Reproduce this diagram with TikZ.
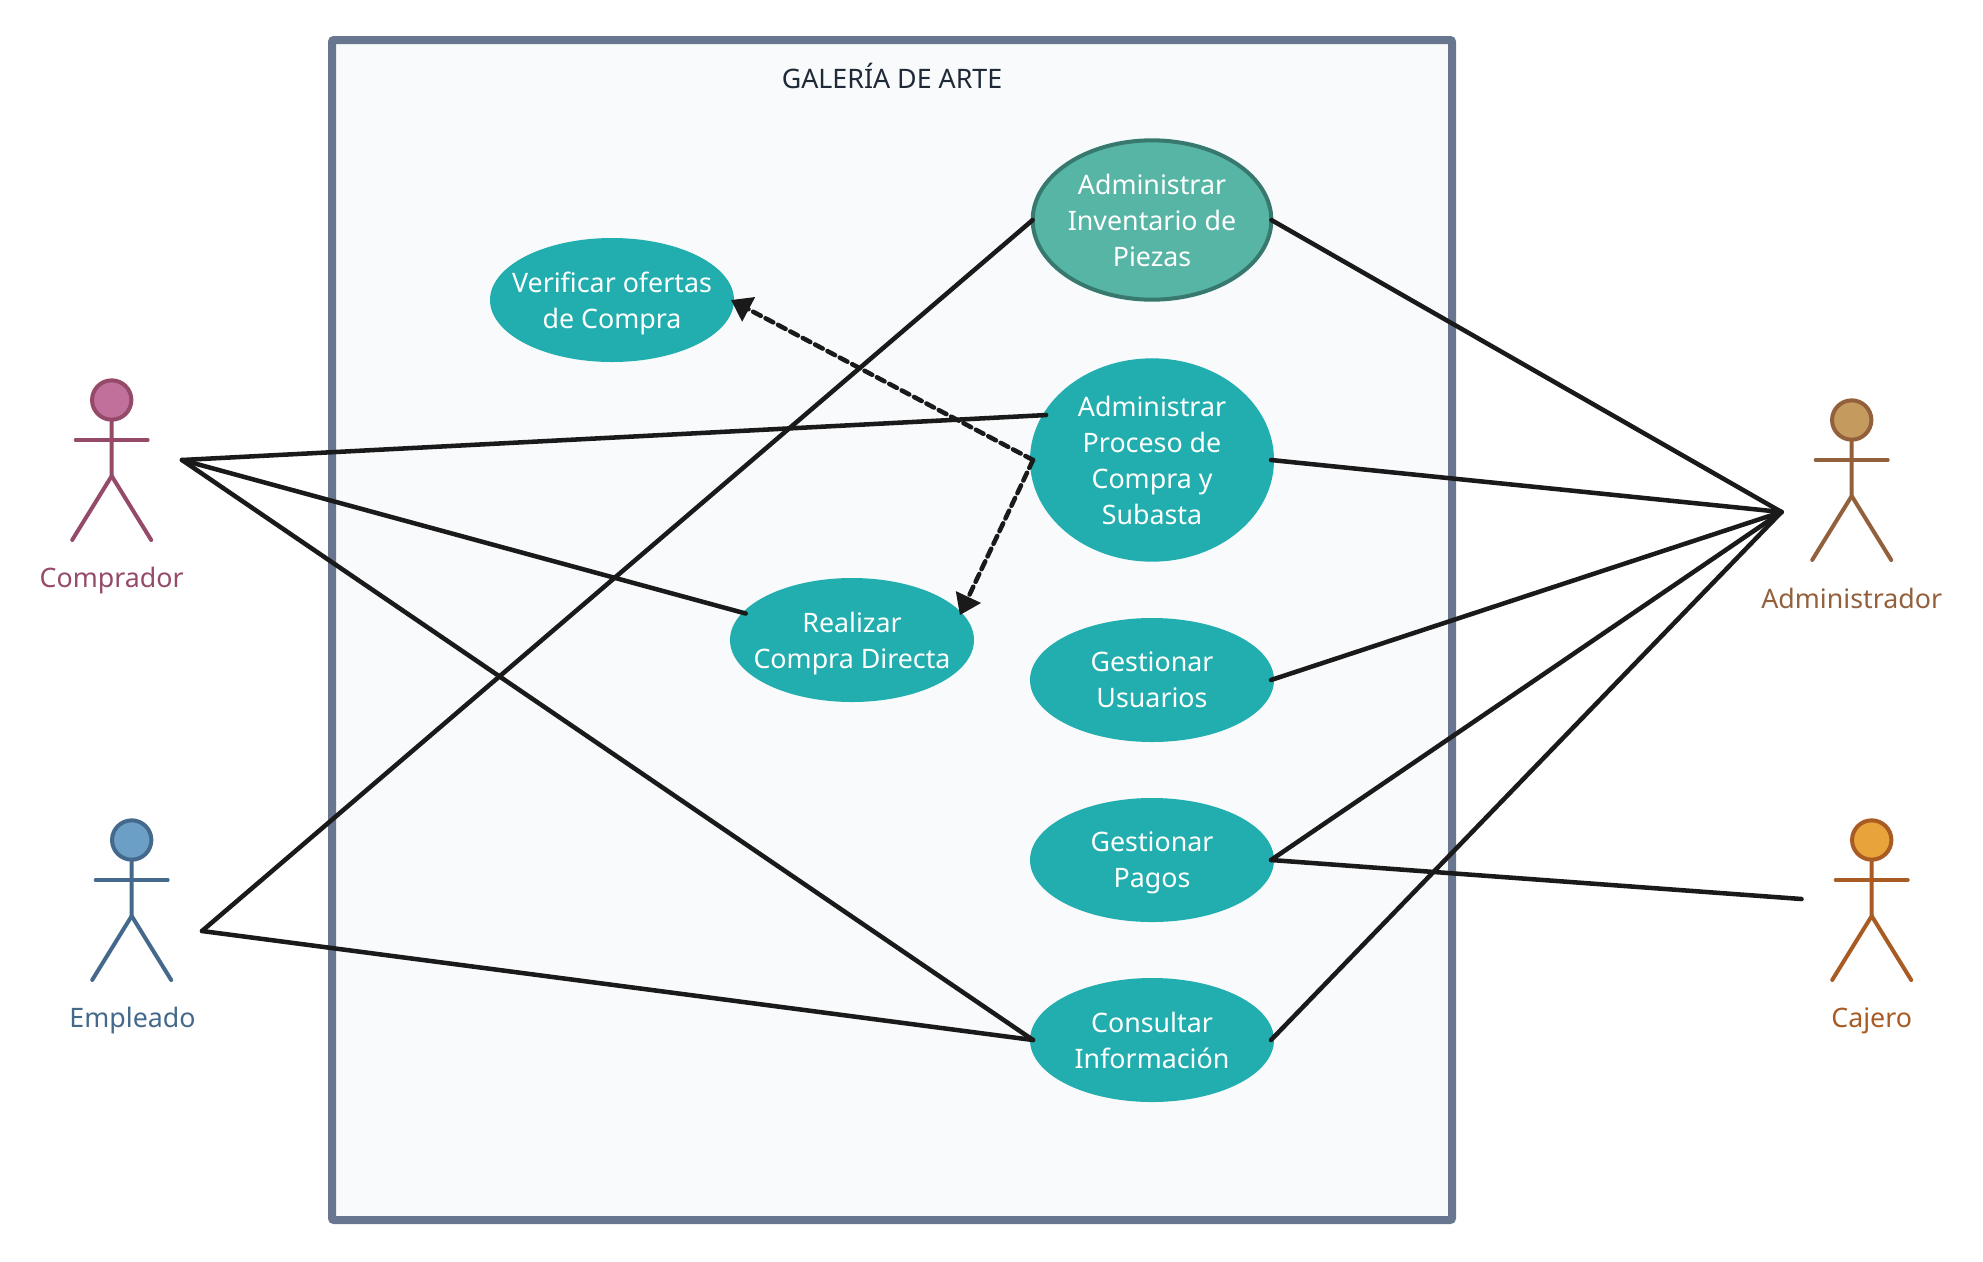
\documentclass[tikz,border=0pt]{standalone}
\usepackage{fontspec}
\setmainfont{Noto Sans}
\usepackage{tikz}
\usetikzlibrary{shapes.geometric,arrows.meta}
\definecolor{boxline}{HTML}{697690}
\definecolor{boxfill}{HTML}{F8FAFC}
\definecolor{titletext}{HTML}{1F2937}
\definecolor{teal1}{HTML}{22AEAE}
\definecolor{teal2}{HTML}{57B5A5}
\definecolor{teal2line}{HTML}{37786F}
\definecolor{wire}{HTML}{1A1A1A}
\definecolor{comprline}{HTML}{964A6A}
\definecolor{comprfill}{HTML}{C0709B}
\definecolor{empline}{HTML}{45698C}
\definecolor{empfill}{HTML}{6B9FC6}
\definecolor{adminline}{HTML}{93603C}
\definecolor{adminfill}{HTML}{C49A5F}
\definecolor{cajline}{HTML}{A85B22}
\definecolor{cajfill}{HTML}{E8A33A}
\tikzset{
  usecase/.style={ellipse,fill=teal1,text=white,inner xsep=-15pt,inner ysep=0pt,outer sep=-2.25pt,
    align=center,text depth=-1pt,minimum width=183pt,minimum height=93pt,
    font=\fontsize{20.1}{27}\selectfont},
  wireline/.style={draw=wire,line width=3.4pt,line cap=round},
  include/.style={wireline,dash pattern=on 6.5pt off 4pt,-{Triangle[length=15pt,width=20pt]}},
  head/.style={circle,line width=3pt,minimum size=29.5pt,inner sep=0pt},
  stick/.style={line width=3pt,line cap=round},
  actorlabel/.style={font=\fontsize{20.1}{27}\selectfont},
}
\begin{document}
\begin{tikzpicture}[x=0.75pt,y=-0.75pt]
\useasboundingbox (0,0) rectangle (1983,1261);
% System box
\draw[draw=boxline,fill=boxfill,line width=6pt,rounded corners=1.5pt] (332,40) rectangle (1452,1220);
\node[text=titletext,actorlabel] (title) at (892,75.5) {GALERÍA DE ARTE};
% Use cases
\node[usecase,draw=teal2line,fill=teal2,line width=3pt,outer sep=0pt,minimum width=179pt,minimum height=119.5pt] (inventario) at (1152,220) {Administrar\\Inventario de\\Piezas};
\node[usecase,minimum height=152.5pt] (proceso) at (1152,460) {Administrar\\Proceso de\\Compra y\\Subasta};
\node[usecase] (verificar) at (612,300) {Verificar ofertas\\de Compra};
\node[usecase] (directa) at (852,640) {Realizar\\Compra Directa};
\node[usecase] (usuarios) at (1152,680) {Gestionar\\Usuarios};
\node[usecase] (pagos) at (1152,860) {Gestionar\\Pagos};
\node[usecase] (consultar) at (1152,1040) {Consultar\\Información};
% Actor Comprador
\node[head,draw=comprline,fill=comprfill] (comprhead) at (111.7,400) {};
\draw[stick,comprline] (comprhead.south) -- ++(0,54.3) -- ++(-39.5,64);
\draw[stick,comprline] (111.7,476) -- ++(39.5,64);
\draw[stick,comprline] (75.7,440) -- (147.7,440);
\node[actorlabel,text=comprline] (comprlabel) at (111.7,581) {Comprador};
% Actor Empleado
\node[head,draw=empline,fill=empfill] (emphead) at (131.7,840) {};
\draw[stick,empline] (emphead.south) -- ++(0,54.3) -- ++(-39.5,64);
\draw[stick,empline] (131.7,916) -- ++(39.5,64);
\draw[stick,empline] (95.7,880) -- (167.7,880);
\node[actorlabel,text=empline] (emplabel) at (132.5,1021) {Empleado};
% Actor Administrador
\node[head,draw=adminline,fill=adminfill] (adminhead) at (1851.7,420) {};
\draw[stick,adminline] (adminhead.south) -- ++(0,54.3) -- ++(-39.5,64);
\draw[stick,adminline] (1851.7,496) -- ++(39.5,64);
\draw[stick,adminline] (1815.7,460) -- (1887.7,460);
\node[actorlabel,text=adminline] (adminlabel) at (1851.7,598.5) {Administrador};
% Actor Cajero
\node[head,draw=cajline,fill=cajfill] (cajhead) at (1871.7,840) {};
\draw[stick,cajline] (cajhead.south) -- ++(0,54.3) -- ++(-39.5,64);
\draw[stick,cajline] (1871.7,916) -- ++(39.5,64);
\draw[stick,cajline] (1835.7,880) -- (1907.7,880);
\node[actorlabel,text=cajline] (cajlabel) at (1871.7,1021) {Cajero};
% Free ends of the connectors
\coordinate (comprend) at (182,460);
\coordinate (empend) at (202,931);
\coordinate (adminend) at (1781.5,512);
\coordinate (cajend) at (1801.5,899);
% Connectors
\draw[wireline] (comprend) -- (proceso.157);
\draw[wireline] (comprend) -- (directa.166);
\draw[wireline] (comprend) -- (consultar.west);
\draw[wireline] (empend) -- (inventario.west);
\draw[wireline] (empend) -- (consultar.west);
\draw[wireline] (inventario.east) -- (adminend);
\draw[wireline] (proceso.east) -- (adminend);
\draw[wireline] (usuarios.east) -- (adminend);
\draw[wireline] (pagos.east) -- (adminend);
\draw[wireline] (consultar.east) -- (adminend);
\draw[wireline] (pagos.east) -- (cajend);
% Dashed arrows
\draw[include] (proceso.west) -- (verificar.east);
\draw[include] (proceso.west) -- (directa.13);
\end{tikzpicture}
\end{document}
